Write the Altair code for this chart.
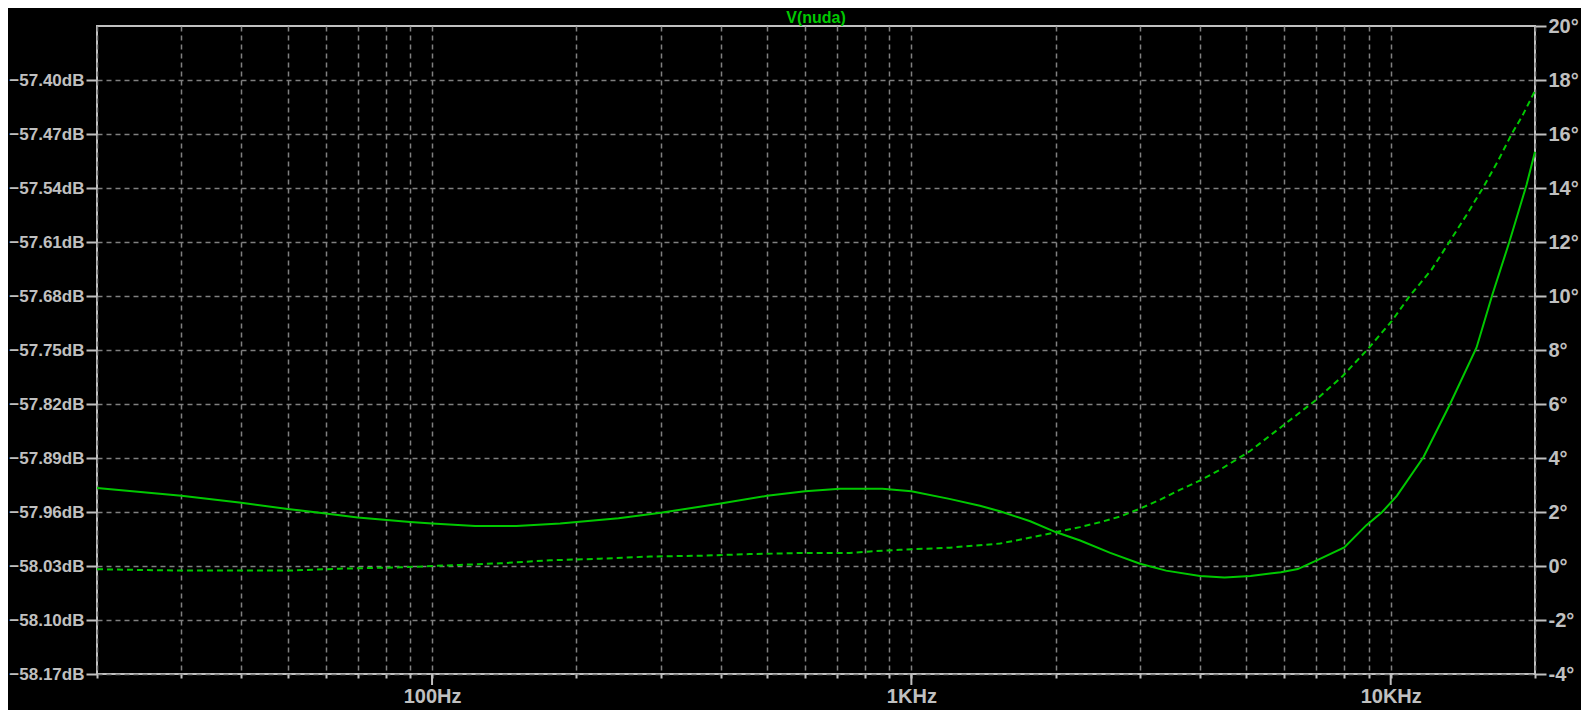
import altair as alt
import pandas as pd

# Magnitude (solid, left axis, dB)
mag_freq = [20, 30, 40, 50, 60, 70, 90, 100, 123, 150, 185, 245, 300, 400, 500, 600, 710, 870,
            1000, 1200, 1390, 1530, 1770, 2000, 2250, 2600, 3000, 3400, 4000, 4500, 5100, 5900,
            6400, 7100, 8000, 8900, 9600, 10300, 11700, 13300, 15100, 16300, 17700, 19200, 20000]
mag_db = [-57.929, -57.939, -57.948, -57.956, -57.962, -57.967, -57.973, -57.975, -57.978, -57.978,
          -57.975, -57.968, -57.961, -57.949, -57.939, -57.933, -57.930, -57.930,
          -57.933, -57.943, -57.952, -57.959, -57.972, -57.986, -57.997, -58.013, -58.027, -58.036,
          -58.043, -58.045, -58.043, -58.038, -58.034, -58.021, -58.006, -57.977, -57.960, -57.939,
          -57.889, -57.820, -57.747, -57.678, -57.609, -57.536, -57.493]

# Phase (dashed, right axis, degrees)
ph_freq = [20, 30, 50, 64, 86, 100, 114, 139, 176, 224, 285, 362, 460, 585, 744, 819, 946,
           1203, 1530, 1792, 2000, 2246, 2473, 2722, 2995, 3297, 3631, 3996, 4399, 5081, 6010,
           6941, 7942, 8954, 10048, 10956, 12172, 13274, 14406, 15555, 16717, 17883, 18856, 20000]
ph_deg = [-0.12, -0.17, -0.17, -0.10, -0.05, 0.0, 0.04, 0.10, 0.21, 0.27, 0.35, 0.38, 0.44, 0.48,
          0.48, 0.54, 0.60, 0.68, 0.83, 1.07, 1.25, 1.44, 1.62, 1.83, 2.12, 2.45, 2.82, 3.16, 3.56,
          4.25, 5.25, 6.11, 7.04, 8.03, 9.07, 10.0, 10.98, 12.02, 13.01, 13.99, 14.98, 16.0, 16.7, 17.6]

grid_freqs = [20, 30, 40, 50, 60, 70, 80, 90, 100, 200, 300, 400, 500, 600, 700, 800, 900,
              1000, 2000, 3000, 4000, 5000, 6000, 7000, 8000, 9000, 10000, 20000]
decade_freqs = [100, 1000, 10000]
db_ticks = [-58.17, -58.10, -58.03, -57.96, -57.89, -57.82, -57.75, -57.68, -57.61, -57.54,
            -57.47, -57.40]
deg_ticks = [-4, -2, 0, 2, 4, 6, 8, 10, 12, 14, 16, 18, 20]
title_text = "V(nuda)"

GREEN = "#00c800"
LIGHT = "#c0c0c0"
GRID = "#808080"
FONT = "Liberation Sans"

mag_df = pd.DataFrame({"f": mag_freq, "db": mag_db})
ph_df = pd.DataFrame({"f": ph_freq, "deg": ph_deg})
dec_df = pd.DataFrame({"f": decade_freqs})

W, H = 1438, 648

xscale = alt.Scale(type="log", domain=[20, 20000], nice=False)
xaxis = alt.Axis(
    values=grid_freqs,
    labelExpr="datum.value==100?'100Hz':datum.value==1000?'1KHz':datum.value==10000?'10KHz':''",
    grid=True, gridColor=GRID, gridDash=[5, 4], gridWidth=1.5,
    tickSize=4, tickColor=LIGHT, tickWidth=2,
    labelColor=LIGHT, labelFontSize=20, labelFont=FONT, labelFontWeight="bold",
    labelPadding=8, labelOverlap=False, labelFlush=False, domain=False, title=None,
)

mag = alt.Chart(mag_df).mark_line(color=GREEN, strokeWidth=2).encode(
    x=alt.X("f:Q", scale=xscale, axis=xaxis),
    y=alt.Y("db:Q",
            scale=alt.Scale(domain=[-58.17, -57.33], nice=False, zero=False),
            axis=alt.Axis(orient="left", values=db_ticks,
                          labelExpr="format(datum.value,'.2f')+'dB'",
                          grid=True, gridColor=GRID, gridDash=[5, 4], gridWidth=1.5,
                          tickSize=11, tickColor=LIGHT, tickWidth=2,
                          labelColor=LIGHT, labelFontSize=17, labelFont=FONT,
                          labelFontWeight="bold",
                          labelPadding=2, labelOverlap=False, labelFlush=False,
                          domain=False, title=None)),
)

ph = alt.Chart(ph_df).mark_line(color=GREEN, strokeWidth=2, strokeDash=[6, 4]).encode(
    x=alt.X("f:Q", scale=xscale),
    y=alt.Y("deg:Q",
            scale=alt.Scale(domain=[-4, 20], nice=False, zero=False),
            axis=alt.Axis(orient="right", values=deg_ticks,
                          labelExpr="datum.value+'°'",
                          grid=False,
                          tickSize=11, tickColor=LIGHT, tickWidth=2,
                          labelColor=LIGHT, labelFontSize=20, labelFont=FONT,
                          labelFontWeight="bold",
                          labelPadding=2, labelOverlap=False, labelFlush=False,
                          domain=False, title=None)),
)

major = alt.Chart(dec_df).mark_rule(color=LIGHT, strokeWidth=2).encode(
    x=alt.X("f:Q", scale=xscale),
    y=alt.value(H),
    y2=alt.value(H + 11),
)

title = alt.Chart(pd.DataFrame({"t": [title_text]})).mark_text(
    color=GREEN, fontSize=16, font=FONT, fontWeight="bold",
    align="center", baseline="alphabetic",
).encode(x=alt.value(W / 2), y=alt.value(-3.5), text="t:N")

chart = alt.layer(mag, ph, major, title).resolve_scale(y="independent").properties(
    width=W, height=H,
    autosize=alt.AutoSizeParams(type="none"),
    padding={"left": 89, "top": 18, "right": 46, "bottom": 36},
).configure(background="black").configure_view(stroke=LIGHT, strokeWidth=2)

chart.save("out.html", embed_options={"renderer": "svg", "actions": False})
